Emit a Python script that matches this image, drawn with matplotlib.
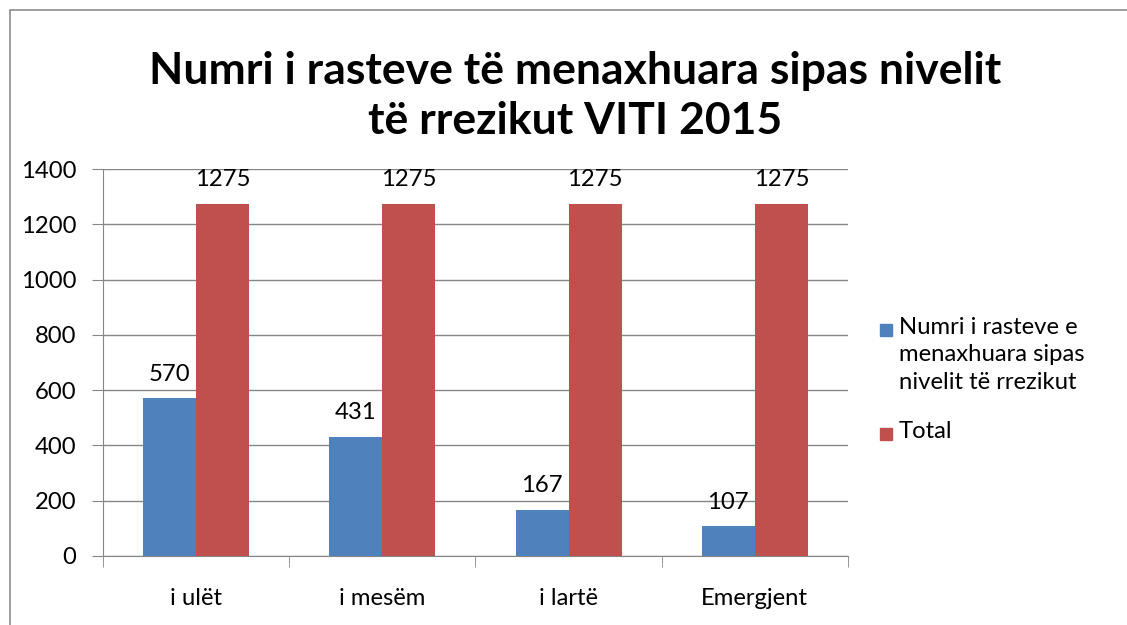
import numpy as np
import matplotlib.pyplot as plt
from matplotlib.patches import Rectangle

categories = ['i ulët', 'i mesëm', 'i lartë', 'Emergjent']
numri = [570, 431, 167, 107]
total = [1275, 1275, 1275, 1275]
series_names = ['Numri i rasteve e\nmenaxhuara sipas\nnivelit të rrezikut', 'Total']

plt.rcParams['font.family'] = ['Lato', 'DejaVu Sans']
fs = 17.2

fig = plt.figure(figsize=(11.27, 6.25), dpi=100)
ax = fig.add_axes([103 / 1127, 1 - 556 / 625, 745 / 1127, 387 / 625])

# outer chart frame (left and top visible)
fig.patches.append(Rectangle((10 / 1127, -0.1), 1.2, (615 / 625) + 0.1, transform=fig.transFigure,
                             fill=False, edgecolor='#8c8c8c', linewidth=1.2))

x = np.arange(len(categories))
w = 0.285
b1 = ax.bar(x - w / 2, numri, w, color='#4f81bd', label=series_names[0], zorder=3)
b2 = ax.bar(x + w / 2, total, w, color='#c0504d', label=series_names[1], zorder=3)

for bars in (b1, b2):
    for r in bars:
        ax.text(r.get_x() + r.get_width() / 2, r.get_height() + 50, str(int(r.get_height())),
                ha='center', va='bottom', fontsize=fs, color='#000000')

ax.set_xlim(-0.5, len(categories) - 0.5)
ax.set_ylim(0, 1400)
ax.set_yticks(range(0, 1401, 200))
ax.grid(axis='y', color='#868686', linewidth=1, zorder=0)
for s in ['top', 'right']:
    ax.spines[s].set_visible(False)
ax.spines['left'].set_color('#868686')
ax.spines['bottom'].set_color('#868686')
ax.set_xticks(x)
ax.set_xticklabels(categories, fontsize=fs)
ax.set_xticks(np.arange(-0.5, len(categories)), minor=True)
ax.tick_params(axis='x', which='major', length=0, pad=23)
ax.tick_params(axis='x', which='minor', length=8, color='#868686', direction='out')
ax.tick_params(axis='y', length=8, color='#868686', labelsize=fs, pad=11)

fig.text(575 / 1127, 1 - 96 / 625, 'Numri i rasteve të menaxhuara sipas nivelit\ntë rrezikut VITI 2015',
         ha='center', va='center', fontsize=32, fontweight='bold', linespacing=1.3)

# legend: square aligned with the first line of each label
leg_y = [330, 434]
for bars, name, yy in zip((b1, b2), series_names, leg_y):
    fig.patches.append(Rectangle((880 / 1127, 1 - (yy + 6) / 625), 12 / 1127, 12 / 625,
                                 transform=fig.transFigure, color=bars[0].get_facecolor()))
    fig.text(899 / 1127, 1 - (yy - 13) / 625, name, ha='left', va='top', fontsize=fs,
             linespacing=1.38)

fig.savefig('out.png', dpi=100)
